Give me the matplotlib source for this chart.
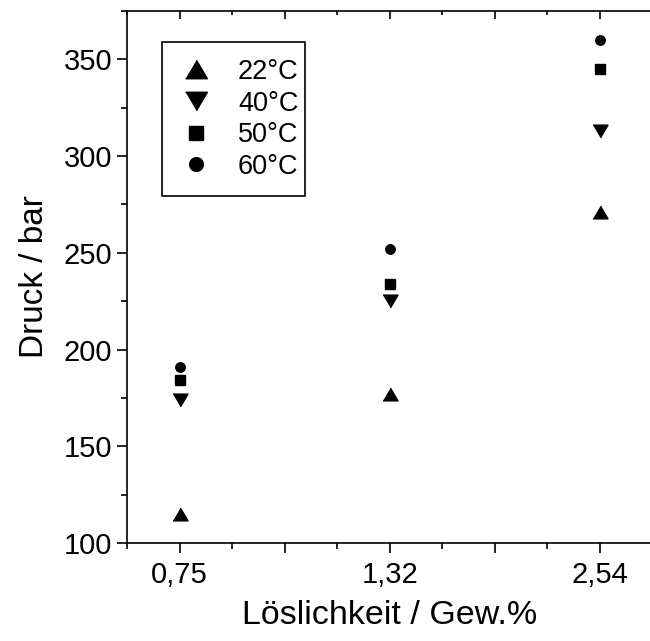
import matplotlib
matplotlib.use('Agg')
import matplotlib.pyplot as plt
from matplotlib.patches import Rectangle
from matplotlib.ticker import MultipleLocator, FuncFormatter

plt.rcParams['font.family'] = ['Liberation Sans', 'DejaVu Sans']

# solubility (wt.%) shown as evenly spaced categories
loeslichkeit = ['0,75', '1,32', '2,54']
pos = [1, 2, 3]

temps = ['22°C', '40°C', '50°C', '60°C']
druck_22 = [115, 177, 271]
druck_40 = [174, 225, 313]
druck_50 = [184, 234, 345]
druck_60 = [191, 252, 360]

tri_up = [(-1, -0.85), (1, -0.85), (0, 0.85)]
tri_down = [(-1, 0.85), (1, 0.85), (0, -0.85)]

fig = plt.figure(figsize=(6.5, 6.41), dpi=100)
ax = fig.add_axes([127 / 650, 98 / 641, 525.5 / 650, 532 / 641])

ax.plot(pos, druck_22, ls='none', marker=tri_up, ms=10.8, color='k', label=temps[0])
ax.plot(pos, druck_40, ls='none', marker=tri_down, ms=10.8, color='k', label=temps[1])
ax.plot(pos, druck_50, ls='none', marker='s', ms=6.8, color='k', label=temps[2])
ax.plot(pos, druck_60, ls='none', marker='o', ms=6.8, color='k', label=temps[3])

ax.set_xlim(0.75, 3.25)
ax.set_ylim(100, 375)

ax.xaxis.set_major_locator(MultipleLocator(0.5))
ax.xaxis.set_minor_locator(MultipleLocator(0.25))
ax.yaxis.set_major_locator(MultipleLocator(50))
ax.yaxis.set_minor_locator(MultipleLocator(25))


def xfmt(v, p):
    # only the whole positions carry a solubility label
    for x, lab in zip(pos, loeslichkeit):
        if abs(v - x) < 1e-6:
            return lab
    return ''


ax.xaxis.set_major_formatter(FuncFormatter(xfmt))

for s in ['left', 'bottom']:
    ax.spines[s].set_linewidth(1.2)
ax.spines['right'].set_visible(False)
ax.spines['top'].set_visible(False)

ax.tick_params(which='both', direction='out', width=1.2, labelsize=21, colors='k')
ax.tick_params(which='major', length=7)
ax.tick_params(which='minor', length=4)
ax.tick_params(axis='x', which='major', pad=6)

top = ax.secondary_xaxis('top')
top.xaxis.set_major_locator(MultipleLocator(0.5))
top.xaxis.set_minor_locator(MultipleLocator(0.25))
top.tick_params(which='both', direction='in', width=1.2, labeltop=False)
top.tick_params(which='major', length=6)
top.tick_params(which='minor', length=3)
top.spines['top'].set_linewidth(1.2)

ax.set_xlabel('Löslichkeit / Gew.%', fontsize=24.5, labelpad=8)
ax.set_ylabel('Druck / bar', fontsize=24, labelpad=10)

# legend box drawn separately so the padding can be tighter on the right
box_x0, box_y0 = 35 / 525.5, 347 / 532
box_w, box_h = 143 / 525.5, 154 / 532
ax.add_patch(Rectangle((box_x0, box_y0), box_w, box_h, transform=ax.transAxes,
                       fill=False, edgecolor='k', linewidth=1.2, zorder=5))

leg = ax.legend(loc='upper left', bbox_to_anchor=(box_x0, box_y0 + box_h - 2 / 532),
                borderaxespad=0, fontsize=19.5, markerscale=1.45, frameon=False,
                handlelength=1.41, handletextpad=0.85, labelspacing=0.21, borderpad=0.55)

fig.savefig('out.png', dpi=100)
